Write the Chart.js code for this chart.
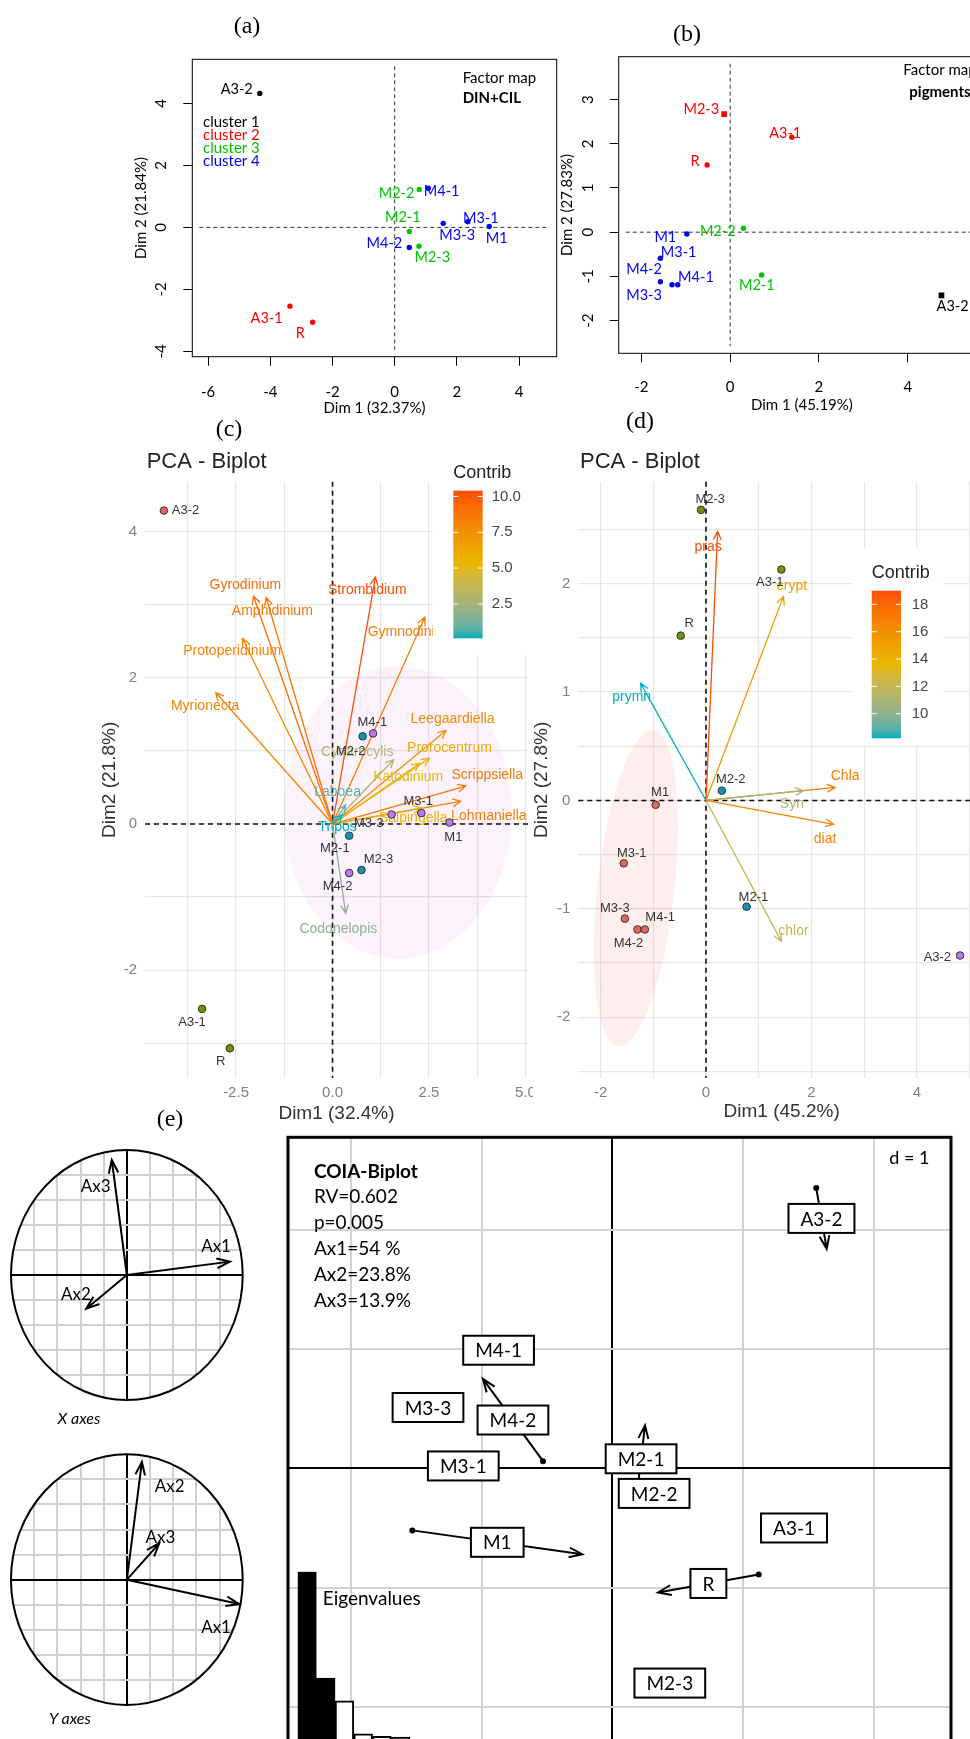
<!DOCTYPE html>
<html>
<head>
<meta charset="utf-8">
<script src="https://cdn.jsdelivr.net/npm/chart.js@4.4.1/dist/chart.umd.min.js"></script>
<style>
html, body { margin: 0; padding: 0; width: 970px; height: 1739px; overflow: hidden; background: #fff; }
canvas, .lbl { position: absolute; }
.lbl { transform: translate(-50%, -50%); white-space: nowrap; }
.panel { font-family: 'Liberation Serif', serif; font-size: 24px; color: #000; }
.axes { font-family: Lato, sans-serif; font-style: italic; font-size: 16px; color: #000; }
</style>
</head>
<body>
<canvas id="chartA" width="470" height="420" style="left:100px;top:0px"></canvas>
<canvas id="chartB" width="500" height="420" style="left:520px;top:0px"></canvas>
<canvas id="chartC" width="443" height="700" style="left:90px;top:440px"></canvas>
<canvas id="chartD" width="470" height="700" style="left:530px;top:440px"></canvas>
<canvas id="chartX" width="280" height="320" style="left:0px;top:1110px"></canvas>
<canvas id="chartY" width="280" height="329" style="left:0px;top:1410px"></canvas>
<canvas id="chartCoia" width="690" height="640" style="left:280px;top:1120px"></canvas>
<canvas id="chartEig" width="130" height="200" style="left:297px;top:1560px"></canvas>

<div class="lbl panel" style="left:247px;top:25px">(a)</div>
<div class="lbl panel" style="left:687px;top:33px">(b)</div>
<div class="lbl panel" style="left:229px;top:428px">(c)</div>
<div class="lbl panel" style="left:640px;top:420px">(d)</div>
<div class="lbl panel" style="left:170px;top:1118px">(e)</div>
<div class="lbl axes" style="left:79px;top:1417px">X axes</div>
<div class="lbl axes" style="left:70px;top:1717px">Y axes</div>

<script>
const R_FONT = 'Lato';
const GG_FONT = 'Liberation Sans';

// ---- (a) factor map DIN+CIL
const aNames = ['A3-2', 'M2-2', 'M4-1', 'M2-1', 'M3-3', 'M3-1', 'M1', 'M4-2', 'M2-3', 'A3-1', 'R'];
const aDim1 = [-4.34, 0.79, 1.08, 0.47, 1.56, 2.35, 3.04, 0.47, 0.78, -3.37, -2.64];
const aDim2 = [4.32, 1.22, 1.26, -0.13, 0.13, 0.18, 0.03, -0.65, -0.61, -2.54, -3.06];
const aCluster = [1, 3, 4, 3, 4, 4, 4, 4, 3, 2, 2];
const aLabelX = [-5.08, 0.06, 1.51, 0.26, 2.01, 2.77, 3.28, -0.33, 1.21, -4.12, -3.04];
const aLabelY = [4.45, 1.10, 1.15, 0.34, -0.25, 0.29, -0.34, -0.52, -0.98, -2.92, -3.42];
const aXTicks = [-6, -4, -2, 0, 2, 4];
const aYTicks = [-4, -2, 0, 2, 4];

// ---- (b) factor map pigments
const bNames = ['M2-3', 'A3-1', 'R', 'M2-2', 'M1', 'M3-1', 'M3-3', 'M4-2', 'M4-1', 'M2-1', 'A3-2'];
const bDim1 = [-0.135, 1.39, -0.52, 0.30, -0.975, -1.57, -1.57, -1.31, -1.18, 0.71, 4.76];
const bDim2 = [2.67, 2.15, 1.52, 0.09, -0.04, -0.59, -1.12, -1.19, -1.19, -0.97, -1.43];
const bCluster = [2, 2, 2, 3, 4, 4, 4, 4, 4, 3, 1];
const bSquare = ['M2-3', 'A3-2'];
const bLabelX = [-0.65, 1.24, -0.79, -0.28, -1.46, -1.16, -1.94, -1.94, -0.77, 0.60, 5.01];
const bLabelY = [2.78, 2.24, 1.61, 0.03, -0.11, -0.45, -1.42, -0.84, -1.03, -1.21, -1.67];
const bXTicks = [-2, 0, 2, 4];
const bYTicks = [-2, -1, 0, 1, 2, 3];

const clusterColours = ['#000000', '#ff0000', '#00c400', '#0000ff'];
const clusterNames = ['cluster 1', 'cluster 2', 'cluster 3', 'cluster 4'];

// ---- (c) PCA biplot ciliates / dinoflagellates
const cNames = ['A3-2', 'M2-2', 'M4-1', 'M3-3', 'M3-1', 'M1', 'M2-1', 'M2-3', 'M4-2', 'A3-1', 'R'];
const cDim1 = [-4.37, 0.78, 1.05, 1.53, 2.30, 3.03, 0.43, 0.75, 0.43, -3.38, -2.66];
const cDim2 = [4.29, 1.20, 1.24, 0.13, 0.15, 0.02, -0.16, -0.63, -0.67, -2.53, -3.07];
const cGroup = [1, 3, 4, 4, 4, 4, 3, 3, 4, 2, 2];
const cLabelX = [-3.81, 0.47, 1.03, 0.94, 2.22, 3.13, 0.06, 1.19, 0.13, -3.64, -2.90];
const cLabelY = [4.29, 0.99, 1.39, 0.01, 0.31, -0.18, -0.34, -0.49, -0.86, -2.72, -3.25];
const cVars = ['Gyrodinium', 'Amphidinium', 'Protoperidinium', 'Myrionecta', 'Strombidium', 'Gymnodinium',
  'Leegaardiella', 'Prorocentrum', 'Cyttarocylis', 'Katodinium', 'Scrippsiella', 'Lohmaniella',
  'Salpingella', 'Laboea', 'Tripos', 'Codonelopis'];
const cVarX = [-2.05, -1.72, -2.33, -3.03, 1.11, 2.39, 2.94, 2.51, 1.58, 2.26, 3.45, 3.32, 2.30, 0.34, 0.26, 0.34];
const cVarY = [3.12, 3.10, 2.54, 1.80, 3.38, 2.83, 1.28, 0.90, 0.88, 0.83, 0.52, 0.31, 0.22, 0.26, 0.12, -1.22];
const cContrib = [9.2, 8.8, 8.0, 8.2, 10.4, 8.5, 7.8, 5.8, 3.0, 5.2, 8.6, 8.3, 5.5, 0.8, 0.1, 1.8];
const cVarLabelX = [-2.26, -1.56, -2.60, -3.30, 0.90, 2.03, 3.11, 3.03, 0.64, 1.96, 4.01, 4.05, 2.09, 0.13, 0.13, 0.15];
const cVarLabelY = [3.27, 2.92, 2.36, 1.61, 3.20, 2.63, 1.43, 1.04, 0.99, 0.64, 0.67, 0.11, 0.08, 0.44, -0.04, -1.44];
const cEllipseCentre = [1.69, 0.16];
const cEllipseRadii = [2.96, 2.0];
const cXTicks = [-3.75, -2.5, -1.25, 0, 1.25, 2.5, 3.75, 5];
const cXTickLabels = ['', '-2.5', '', '0.0', '', '2.5', '', '5.0'];
const cYTicks = [-3, -2, -1, 0, 1, 2, 3, 4];
const cYTickLabels = ['', '-2', '', '0', '', '2', '', '4'];
const cContribTicks = [2.5, 5.0, 7.5, 10.0];

// ---- (d) PCA biplot pigments
const dNames = ['M2-3', 'A3-1', 'R', 'M2-2', 'M1', 'M3-1', 'M3-3', 'M4-2', 'M4-1', 'M2-1', 'A3-2'];
const dDim1 = [-0.095, 1.43, -0.48, 0.30, -0.955, -1.56, -1.54, -1.30, -1.16, 0.77, 4.82];
const dDim2 = [2.68, 2.13, 1.52, 0.09, -0.04, -0.58, -1.09, -1.19, -1.19, -0.98, -1.43];
const dGroup = [2, 2, 2, 3, 1, 1, 1, 1, 1, 3, 4];
const dLabelX = [0.08, 1.21, -0.32, 0.47, -0.87, -1.41, -1.73, -1.47, -0.87, 0.90, 4.39];
const dLabelY = [2.78, 2.01, 1.63, 0.19, 0.07, -0.49, -1.00, -1.32, -1.08, -0.89, -1.45];
const dVars = ['pras', 'crypt', 'prymn', 'Chla', 'Syn', 'diat', 'chlor'];
const dVarX = [0.22, 1.47, -1.24, 2.45, 1.85, 2.42, 1.43];
const dVarY = [2.48, 1.88, 1.08, 0.12, 0.09, -0.22, -1.30];
const dContrib = [19.0, 15.5, 8.2, 17.0, 11.0, 16.5, 12.0];
const dVarLabelX = [0.04, 1.63, -1.41, 2.64, 1.63, 2.26, 1.66];
const dVarLabelY = [2.34, 1.98, 0.95, 0.22, -0.03, -0.36, -1.21];
const dEllipseCentre = [-1.33, -0.81];
const dEllipseRadii = [0.73, 1.47];
const dEllipseTilt = 0.11;
const dXTicks = [-2, -1, 0, 1, 2, 3, 4, 5];
const dXTickLabels = ['-2', '', '0', '', '2', '', '4', ''];
const dYTicks = [-2.5, -2, -1.5, -1, -0.5, 0, 0.5, 1, 1.5, 2, 2.5];
const dYTickLabels = ['', '-2', '', '-1', '', '0', '', '1', '', '2', ''];
const dContribTicks = [10, 12, 14, 16, 18];

const groupColours = ['#e0675f', '#6a9400', '#0e95b8', '#bb78f0'];
const contribStops = ['#00AFBB', '#E7B800', '#FC4E07'];

// ---- (e) co-inertia
const axNames = ['Ax1', 'Ax2', 'Ax3'];
const xAxesX = [0.89, -0.35, -0.13];
const xAxesY = [0.107, -0.27, 0.92];
const xAxesLabelX = [0.77, -0.44, -0.27];
const xAxesLabelY = [0.23, -0.16, 0.71];
const yAxesX = [0.97, 0.13, 0.28];
const yAxesY = [-0.195, 0.94, 0.29];
const yAxesLabelX = [0.77, 0.37, 0.29];
const yAxesLabelY = [-0.385, 0.74, 0.34];
const circleGrid = [-0.8, -0.6, -0.4, -0.2, 0, 0.2, 0.4, 0.6, 0.8];

const coiaNames = ['A3-2', 'M4-1', 'M3-3', 'M4-2', 'M3-1', 'M2-1', 'M2-2', 'A3-1', 'M1', 'R', 'M2-3'];
const coiaX1 = [1.56, -0.84, -1.38, -0.53, -1.10, 0.19, 0.30, 1.37, -1.53, 1.12, 0.42];
const coiaY1 = [2.35, 1.00, 0.45, 0.06, 0.00, -0.20, -0.23, -0.52, -0.52, -0.89, -1.82];
const coiaX2 = [1.64, -0.90, -1.44, -0.99, -1.18, 0.25, 0.34, 1.41, -0.23, 0.35, 0.46];
const coiaY2 = [1.84, 0.98, 0.57, 0.75, 0.04, 0.36, -0.19, -0.48, -0.72, -1.04, -1.78];
const coiaGrid = [-2, -1, 0, 1, 2];
const coiaStats = ['RV=0.602', 'p=0.005', 'Ax1=54 %', 'Ax2=23.8%', 'Ax3=13.9%'];
const eigenValues = [54, 23.5, 17, 7.5, 6.8, 6.6];
const eigenKept = 2;

const common = {
  animation: false,
  responsive: false,
  events: [],
  plugins: { legend: { display: false }, tooltip: { enabled: false } }
};

function hexToRgb(h) { return [1, 3, 5].map(i => parseInt(h.slice(i, i + 2), 16)); }

// colour interpolation in CIE Lab, as ggplot's gradientn does
function toLinear(c) { c /= 255; return c <= 0.04045 ? c / 12.92 : Math.pow((c + 0.055) / 1.055, 2.4); }
function fromLinear(c) {
  c = c <= 0.0031308 ? 12.92 * c : 1.055 * Math.pow(c, 1 / 2.4) - 0.055;
  return Math.round(Math.min(1, Math.max(0, c)) * 255);
}
function toLab(hex) {
  const [r, g, b] = hexToRgb(hex).map(toLinear);
  const X = (0.4124 * r + 0.3576 * g + 0.1805 * b) / 0.95047;
  const Y = 0.2126 * r + 0.7152 * g + 0.0722 * b;
  const Z = (0.0193 * r + 0.1192 * g + 0.9505 * b) / 1.08883;
  const f = t => t > 0.008856 ? Math.cbrt(t) : 7.787 * t + 16 / 116;
  return [116 * f(Y) - 16, 500 * (f(X) - f(Y)), 200 * (f(Y) - f(Z))];
}
function fromLab([L, a, bb]) {
  const fy = (L + 16) / 116, fx = fy + a / 500, fz = fy - bb / 200;
  const inv = t => t * t * t > 0.008856 ? t * t * t : (t - 16 / 116) / 7.787;
  const X = inv(fx) * 0.95047, Y = inv(fy), Z = inv(fz) * 1.08883;
  const r = 3.2406 * X - 1.5372 * Y - 0.4986 * Z;
  const g = -0.9689 * X + 1.8758 * Y + 0.0415 * Z;
  const b = 0.0557 * X - 0.2040 * Y + 1.0570 * Z;
  return `rgb(${fromLinear(r)},${fromLinear(g)},${fromLinear(b)})`;
}
const contribLab = contribStops.map(toLab);
function gradientAt(t) {
  const s = Math.min(1, Math.max(0, t)) * 2;
  const i = Math.min(1, Math.floor(s));
  const f = s - i;
  return fromLab(contribLab[i].map((c, k) => c + (contribLab[i + 1][k] - c) * f));
}
function contribColour(v, lo, hi) { return gradientAt((v - lo) / (hi - lo)); }

function drawArrow(ctx, x0, y0, x1, y1, head, angle) {
  const a = Math.atan2(y1 - y0, x1 - x0);
  ctx.beginPath();
  ctx.moveTo(x0, y0);
  ctx.lineTo(x1, y1);
  ctx.moveTo(x1 - head * Math.cos(a - angle), y1 - head * Math.sin(a - angle));
  ctx.lineTo(x1, y1);
  ctx.lineTo(x1 - head * Math.cos(a + angle), y1 - head * Math.sin(a + angle));
  ctx.stroke();
}

// R base graphics style axis (outer ticks, rotated y labels)
function rAxis(min, max, ticks, vertical, size, title, titlePad, tickPad) {
  return {
    type: 'linear', min, max,
    afterBuildTicks: s => { s.ticks = ticks.map(v => ({ value: v })); },
    afterFit: s => {
      if (vertical) { s.width = size; s.paddingTop = 0; s.paddingBottom = 0; }
      else { s.height = size; s.paddingLeft = 0; s.paddingRight = 0; }
    },
    border: { display: false },
    grid: { drawOnChartArea: false, tickLength: 9, color: '#000', lineWidth: 1 },
    ticks: {
      autoSkip: false, padding: tickPad, color: '#000',
      font: { family: R_FONT, size: 15 },
      minRotation: vertical ? 90 : 0, maxRotation: vertical ? 90 : 0,
      crossAlign: vertical ? 'center' : 'near'
    },
    title: {
      display: true, text: title, color: '#000', font: { family: R_FONT, size: 15 },
      padding: vertical ? { top: titlePad, bottom: 0 } : { top: 0, bottom: titlePad }
    }
  };
}

// ggplot2 minimal theme axis
function ggAxis(min, max, ticks, labels, vertical, size, title, titlePad, tickPad) {
  return {
    type: 'linear', min, max,
    afterBuildTicks: s => { s.ticks = ticks.map(v => ({ value: v })); },
    afterFit: s => {
      if (vertical) { s.width = size; s.paddingTop = 0; s.paddingBottom = 0; }
      else { s.height = size; s.paddingLeft = 0; s.paddingRight = 0; }
    },
    border: { display: false },
    grid: { drawTicks: false, color: '#e6e6e6', lineWidth: 1.2 },
    ticks: {
      autoSkip: false, padding: tickPad, color: '#808080', maxRotation: 0, minRotation: 0,
      font: { family: GG_FONT, size: 15 },
      callback: (v, i) => labels[i]
    },
    title: {
      display: true, text: title, color: '#333', font: { family: GG_FONT, size: 19 },
      padding: vertical ? { top: titlePad, bottom: 0 } : { top: 0, bottom: titlePad }
    }
  };
}

function rPanel(names, labX, labY, cluster, extras) {
  return {
    id: 'rpanel',
    beforeDatasetsDraw(chart) {
      const { ctx, chartArea: ca, scales: { x, y } } = chart;
      const x0 = x.getPixelForValue(0), y0 = y.getPixelForValue(0);
      ctx.save();
      ctx.strokeStyle = '#333';
      ctx.lineWidth = 1;
      ctx.setLineDash([4, 3]);
      ctx.beginPath();
      ctx.moveTo(x0, ca.top + 7); ctx.lineTo(x0, ca.bottom - 7);
      ctx.moveTo(ca.left + 7, y0); ctx.lineTo(ca.right - 7, y0);
      ctx.stroke();
      ctx.restore();
    },
    afterDatasetsDraw(chart) {
      const { ctx, chartArea: ca, scales: { x, y } } = chart;
      ctx.save();
      ctx.strokeStyle = '#000';
      ctx.lineWidth = 1;
      ctx.strokeRect(ca.left, ca.top, ca.width, ca.height);
      ctx.font = `14.5px ${R_FONT}`;
      ctx.textAlign = 'center';
      ctx.textBaseline = 'middle';
      names.forEach((n, i) => {
        ctx.fillStyle = clusterColours[cluster[i] - 1];
        ctx.fillText(n, x.getPixelForValue(labX[i]), y.getPixelForValue(labY[i]));
      });
      ctx.textAlign = 'left';
      extras(ctx);
      ctx.restore();
    }
  };
}

function drawContribLegend(ctx, bg, bar, range, ticks, labelX) {
  ctx.fillStyle = '#fff';
  ctx.fillRect(bg[0], bg[1], bg[2], bg[3]);
  ctx.fillStyle = '#222';
  ctx.font = `18px ${GG_FONT}`;
  ctx.textAlign = 'left';
  ctx.textBaseline = 'middle';
  ctx.fillText('Contrib', bar[0], bar[1] - 18);
  const g = ctx.createLinearGradient(0, bar[1] + bar[3], 0, bar[1]);
  for (let k = 0; k <= 20; k++) g.addColorStop(k / 20, gradientAt(k / 20));
  ctx.fillStyle = g;
  ctx.fillRect(bar[0], bar[1], bar[2], bar[3]);
  ctx.font = `15px ${GG_FONT}`;
  ctx.strokeStyle = '#fff';
  ctx.lineWidth = 1;
  ticks.forEach(v => {
    const py = bar[1] + bar[3] - (v - range[0]) / (range[1] - range[0]) * bar[3];
    ctx.beginPath();
    ctx.moveTo(bar[0], py); ctx.lineTo(bar[0] + 5, py);
    ctx.moveTo(bar[0] + bar[2] - 5, py); ctx.lineTo(bar[0] + bar[2], py);
    ctx.stroke();
    ctx.fillStyle = '#444';
    ctx.fillText(v.toFixed(ticks[0] % 1 ? 1 : 0), labelX, py);
  });
}

function biplot(cfg) {
  return {
    id: 'biplot',
    beforeDatasetsDraw(chart) {
      const { ctx, chartArea: ca, scales: { x, y } } = chart;
      const x0 = x.getPixelForValue(0), y0 = y.getPixelForValue(0);
      ctx.save();
      const ex = x.getPixelForValue(cfg.ellCentre[0]), ey = y.getPixelForValue(cfg.ellCentre[1]);
      const erx = Math.abs(x.getPixelForValue(cfg.ellCentre[0] + cfg.ellRadii[0]) - ex);
      const ery = Math.abs(y.getPixelForValue(cfg.ellCentre[1] + cfg.ellRadii[1]) - ey);
      ctx.fillStyle = cfg.ellColour;
      ctx.beginPath();
      ctx.ellipse(ex, ey, erx, ery, cfg.ellTilt, 0, Math.PI * 2);
      ctx.fill();
      ctx.strokeStyle = '#111';
      ctx.lineWidth = 1.6;
      ctx.setLineDash([5, 4]);
      ctx.beginPath();
      ctx.moveTo(x0, ca.top); ctx.lineTo(x0, ca.bottom);
      ctx.moveTo(ca.left, y0); ctx.lineTo(ca.right, y0);
      ctx.stroke();
      ctx.setLineDash([]);
      ctx.font = `14px ${GG_FONT}`;
      ctx.textAlign = 'center';
      ctx.textBaseline = 'middle';
      cfg.vars.forEach((name, i) => {
        const col = contribColour(cfg.contrib[i], cfg.range[0], cfg.range[1]);
        ctx.strokeStyle = col;
        ctx.lineWidth = 1.3;
        drawArrow(ctx, x0, y0, x.getPixelForValue(cfg.vx[i]), y.getPixelForValue(cfg.vy[i]), 9, 0.45);
        ctx.fillStyle = col;
        ctx.fillText(name, x.getPixelForValue(cfg.vlx[i]), y.getPixelForValue(cfg.vly[i]));
      });
      ctx.restore();
    },
    afterDatasetsDraw(chart) {
      const { ctx, scales: { x, y } } = chart;
      ctx.save();
      ctx.font = `13px ${GG_FONT}`;
      ctx.fillStyle = '#333';
      ctx.textAlign = 'center';
      ctx.textBaseline = 'middle';
      cfg.names.forEach((n, i) => ctx.fillText(n, x.getPixelForValue(cfg.lx[i]), y.getPixelForValue(cfg.ly[i])));
      ctx.restore();
    },
    afterDraw(chart) {
      const { ctx } = chart;
      ctx.save();
      drawContribLegend(ctx, cfg.legendBg, cfg.legendBar, cfg.range, cfg.legendTicks, cfg.legendLabelX);
      ctx.fillStyle = '#222';
      ctx.font = `22px ${GG_FONT}`;
      ctx.textAlign = 'left';
      ctx.textBaseline = 'middle';
      ctx.fillText('PCA - Biplot', cfg.titleX, 21.7);
      ctx.restore();
    }
  };
}

function circlePlugin(cx, cy, lx, ly) {
  return {
    id: 'corcircle',
    beforeDraw(chart) {
      const { ctx, chartArea: ca } = chart;
      ctx.save();
      ctx.beginPath();
      ctx.ellipse((ca.left + ca.right) / 2, (ca.top + ca.bottom) / 2, ca.width / 2, ca.height / 2, 0, 0, Math.PI * 2);
      ctx.clip();
    },
    beforeDatasetsDraw(chart) { chart.ctx.restore(); },
    afterDatasetsDraw(chart) {
      const { ctx, chartArea: ca, scales: { x, y } } = chart;
      ctx.save();
      ctx.strokeStyle = '#000';
      ctx.lineWidth = 2;
      ctx.beginPath();
      ctx.ellipse((ca.left + ca.right) / 2, (ca.top + ca.bottom) / 2, ca.width / 2, ca.height / 2, 0, 0, Math.PI * 2);
      ctx.stroke();
      const x0 = x.getPixelForValue(0), y0 = y.getPixelForValue(0);
      ctx.font = `17px ${R_FONT}`;
      ctx.fillStyle = '#000';
      ctx.textAlign = 'center';
      ctx.textBaseline = 'middle';
      axNames.forEach((n, i) => {
        drawArrow(ctx, x0, y0, x.getPixelForValue(cx[i]), y.getPixelForValue(cy[i]), 14, 0.35);
        ctx.fillText(n, x.getPixelForValue(lx[i]), y.getPixelForValue(ly[i]));
      });
      ctx.restore();
    }
  };
}

function plainAxis(min, max, ticks, vertical, gridColour) {
  return {
    type: 'linear', min, max,
    afterBuildTicks: s => { s.ticks = ticks.map(v => ({ value: v })); },
    afterFit: s => {
      if (vertical) { s.width = 0; s.paddingTop = 0; s.paddingBottom = 0; }
      else { s.height = 0; s.paddingLeft = 0; s.paddingRight = 0; }
    },
    border: { display: false },
    ticks: { display: false },
    grid: { drawTicks: false, color: c => c.tick.value === 0 ? '#000' : gridColour, lineWidth: 2 }
  };
}

function draw() {
  // (a)
  new Chart(document.getElementById('chartA'), {
    type: 'scatter',
    data: { datasets: [{
      data: aDim1.map((v, i) => ({ x: v, y: aDim2[i] })),
      pointRadius: 2.7, pointBorderWidth: 0,
      pointBackgroundColor: aCluster.map(c => clusterColours[c - 1])
    }] },
    options: {
      ...common,
      layout: { padding: { left: 0, right: 13.3, top: 59.3, bottom: 0 } },
      scales: {
        x: rAxis(-6.51, 5.21, aXTicks, false, 63.3, 'Dim 1 (32.37%)', 3, 17),
        y: rAxis(-4.17, 5.42, aYTicks, true, 92.3, 'Dim 2 (21.84%)', 31.7, 14.8)
      }
    },
    plugins: [rPanel(aNames, aLabelX, aLabelY, aCluster, ctx => {
      ctx.font = `15px ${R_FONT}`;
      clusterNames.forEach((n, i) => {
        ctx.fillStyle = clusterColours[i];
        ctx.fillText(n, 103, 121.7 + i * 13.2);
      });
      ctx.fillStyle = '#000';
      ctx.fillText('Factor map', 362.7, 78.3);
      ctx.font = `bold 15px ${R_FONT}`;
      ctx.fillText('DIN+CIL', 362.7, 98.3);
    })]
  });

  // (b)
  new Chart(document.getElementById('chartB'), {
    type: 'scatter',
    data: { datasets: [{
      data: bDim1.map((v, i) => ({ x: v, y: bDim2[i] })),
      pointRadius: bNames.map(n => bSquare.includes(n) ? 4 : 2.7),
      pointStyle: bNames.map(n => bSquare.includes(n) ? 'rect' : 'circle'),
      pointBorderWidth: 0,
      pointBackgroundColor: bCluster.map(c => clusterColours[c - 1])
    }] },
    options: {
      ...common,
      layout: { padding: { left: 0, right: 35, top: 56.7, bottom: 0 } },
      scales: {
        x: rAxis(-2.51, 5.74, bXTicks, false, 66.7, 'Dim 1 (45.19%)', 6, 16),
        y: rAxis(-2.74, 3.97, bYTicks, true, 98.7, 'Dim 2 (27.83%)', 37.7, 14.6)
      }
    },
    plugins: [rPanel(bNames, bLabelX, bLabelY, bCluster, ctx => {
      ctx.font = `15px ${R_FONT}`;
      ctx.fillStyle = '#000';
      ctx.fillText('Factor map', 383.3, 70);
      ctx.font = `bold 15px ${R_FONT}`;
      ctx.fillText('pigments', 389.3, 91.7);
    })]
  });

  // (c)
  new Chart(document.getElementById('chartC'), {
    type: 'scatter',
    data: { datasets: [{
      data: cDim1.map((v, i) => ({ x: v, y: cDim2[i] })),
      pointRadius: 3.8, pointBorderWidth: 1, pointBorderColor: '#333',
      pointBackgroundColor: cGroup.map(g => groupColours[g - 1])
    }] },
    options: {
      ...common,
      layout: { padding: { left: 0, right: 0, top: 41.7, bottom: 0 } },
      scales: {
        x: ggAxis(-4.859, 5.064, cXTicks, cXTickLabels, false, 62, 'Dim1 (32.4%)', 15.3, 6),
        y: ggAxis(-3.476, 4.685, cYTicks, cYTickLabels, true, 55, 'Dim2 (21.8%)', 8.6, 8)
      }
    },
    plugins: [biplot({
      names: cNames, lx: cLabelX, ly: cLabelY,
      vars: cVars, vx: cVarX, vy: cVarY, vlx: cVarLabelX, vly: cVarLabelY,
      contrib: cContrib, range: [Math.min(...cContrib), Math.max(...cContrib)],
      ellCentre: cEllipseCentre, ellRadii: cEllipseRadii, ellTilt: 0, ellColour: 'rgba(225,130,225,0.10)',
      legendBg: [343, 15, 100, 200], legendBar: [363.3, 50.7, 29.4, 147.6],
      legendTicks: cContribTicks, legendLabelX: 401.7, titleX: 56.7
    })]
  });

  // (d)
  new Chart(document.getElementById('chartD'), {
    type: 'scatter',
    data: { datasets: [{
      data: dDim1.map((v, i) => ({ x: v, y: dDim2[i] })),
      pointRadius: 3.8, pointBorderWidth: 1, pointBorderColor: '#333',
      pointBackgroundColor: dGroup.map(g => groupColours[g - 1])
    }] },
    options: {
      ...common,
      layout: { padding: { left: 0, right: 15, top: 41.7, bottom: 0 } },
      scales: {
        x: ggAxis(-2.423, 5.294, dXTicks, dXTickLabels, false, 62, 'Dim1 (45.2%)', 16.9, 6),
        y: ggAxis(-2.56, 2.94, dYTicks, dYTickLabels, true, 48.3, 'Dim2 (27.8%)', 0.3, 8)
      }
    },
    plugins: [biplot({
      names: dNames, lx: dLabelX, ly: dLabelY,
      vars: dVars, vx: dVarX, vy: dVarY, vlx: dVarLabelX, vly: dVarLabelY,
      contrib: dContrib, range: [Math.min(...dContrib), Math.max(...dContrib)],
      ellCentre: dEllipseCentre, ellRadii: dEllipseRadii, ellTilt: dEllipseTilt, ellColour: 'rgba(248,118,109,0.12)',
      legendBg: [323, 108, 90, 197], legendBar: [341.7, 150.7, 29.3, 147.6],
      legendTicks: dContribTicks, legendLabelX: 381.7, titleX: 50
    })]
  });

  // (e) correlation circles
  const circleOpts = (padTop, padBottom) => ({
    ...common,
    layout: { padding: { left: 11, right: 37.3, top: padTop, bottom: padBottom } },
    scales: { x: plainAxis(-1, 1, circleGrid, false, '#cfcfcf'), y: plainAxis(-1, 1, circleGrid, true, '#cfcfcf') }
  });
  new Chart(document.getElementById('chartX'), {
    type: 'scatter',
    data: { datasets: [{ data: xAxesX.map((v, i) => ({ x: v, y: xAxesY[i] })), pointRadius: 0 }] },
    options: circleOpts(40, 30),
    plugins: [circlePlugin(xAxesX, xAxesY, xAxesLabelX, xAxesLabelY)]
  });
  new Chart(document.getElementById('chartY'), {
    type: 'scatter',
    data: { datasets: [{ data: yAxesX.map((v, i) => ({ x: v, y: yAxesY[i] })), pointRadius: 0 }] },
    options: circleOpts(44.3, 34),
    plugins: [circlePlugin(yAxesX, yAxesY, yAxesLabelX, yAxesLabelY)]
  });

  // (e) COIA biplot
  new Chart(document.getElementById('chartCoia'), {
    type: 'scatter',
    data: { datasets: [{
      data: coiaX1.map((v, i) => ({ x: v, y: coiaY1[i] })),
      pointRadius: 3, pointBorderWidth: 0, pointBackgroundColor: '#000'
    }] },
    options: {
      ...common,
      layout: { padding: { left: 8, right: 19, top: 17.3, bottom: 10 } },
      scales: { x: plainAxis(-2.481, 2.591, coiaGrid, false, '#d2d2d2'), y: plainAxis(-2.361, 2.775, coiaGrid, true, '#d2d2d2') }
    },
    plugins: [{
      id: 'coia',
      afterDatasetsDraw(chart) {
        const { ctx, chartArea: ca, scales: { x, y } } = chart;
        ctx.save();
        ctx.strokeStyle = '#000';
        ctx.lineWidth = 2;
        coiaNames.forEach((n, i) => {
          drawArrow(ctx, x.getPixelForValue(coiaX1[i]), y.getPixelForValue(coiaY1[i]),
            x.getPixelForValue(coiaX2[i]), y.getPixelForValue(coiaY2[i]), 14, 0.36);
        });
        ctx.font = `19px ${R_FONT}`;
        ctx.textAlign = 'center';
        ctx.textBaseline = 'middle';
        coiaNames.forEach((n, i) => {
          const px = x.getPixelForValue((coiaX1[i] + coiaX2[i]) / 2);
          const py = y.getPixelForValue((coiaY1[i] + coiaY2[i]) / 2);
          const w = ctx.measureText(n).width + 24, h = 29;
          ctx.fillStyle = '#fff';
          ctx.fillRect(px - w / 2, py - h / 2, w, h);
          ctx.lineWidth = 2;
          ctx.strokeRect(px - w / 2, py - h / 2, w, h);
          ctx.fillStyle = '#000';
          ctx.fillText(n, px, py + 1);
        });
        ctx.textAlign = 'left';
        ctx.font = `bold 19px ${R_FONT}`;
        ctx.fillText('COIA-Biplot', 33.9, 51.7);
        ctx.font = `19px ${R_FONT}`;
        coiaStats.forEach((s, i) => ctx.fillText(s, 33.9, 77.3 + i * 25.9));
        ctx.textAlign = 'center';
        ctx.font = `18px ${R_FONT}`;
        ctx.fillText('d = 1', 629.4, 38.3);
        ctx.lineWidth = 3;
        ctx.strokeRect(ca.left, ca.top, ca.width, ca.height);
        ctx.restore();
      }
    }]
  });

  // eigenvalue inset
  new Chart(document.getElementById('chartEig'), {
    type: 'bar',
    data: {
      labels: eigenValues.map((v, i) => 'Ax' + (i + 1)),
      datasets: [{
        data: eigenValues,
        backgroundColor: eigenValues.map((v, i) => i < eigenKept ? '#000' : '#fff'),
        borderColor: '#000', borderWidth: 2,
        categoryPercentage: 1, barPercentage: 1
      }]
    },
    options: {
      ...common,
      layout: { padding: { left: 0.6, right: 17, top: 11.7, bottom: 0 } },
      scales: { x: { display: false }, y: { display: false, min: 0, max: 54 } }
    },
    plugins: [{
      id: 'eigLabel',
      afterDraw(chart) {
        const { ctx } = chart;
        ctx.save();
        ctx.font = `19px ${R_FONT}`;
        ctx.fillStyle = '#000';
        ctx.textBaseline = 'middle';
        ctx.fillText('Eigenvalues', 25.7, 39.3);
        ctx.restore();
      }
    }]
  });
}

Promise.all([
  document.fonts.load(`15px ${R_FONT}`),
  document.fonts.load(`bold 15px ${R_FONT}`),
  document.fonts.load(`15px "${GG_FONT}"`)
]).then(draw, draw);
</script>
</body>
</html>
